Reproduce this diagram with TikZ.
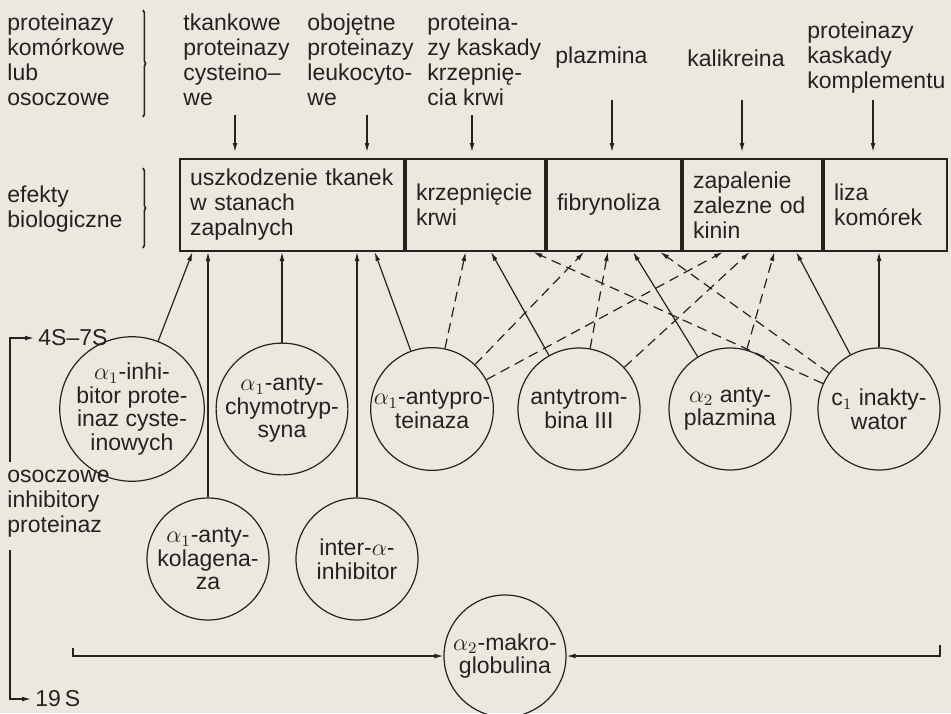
\documentclass[tikz,border=0pt]{standalone}
\usepackage{fontspec}
\setmainfont{Liberation Sans}
\usetikzlibrary{arrows.meta,calc,decorations.pathreplacing}
\definecolor{paper}{RGB}{235,232,224}
\definecolor{ink}{RGB}{38,34,34}
\tikzset{
  txt/.style={inner sep=0pt, align=left, anchor=west, font=\fontsize{11.5}{12.5}\selectfont},
  cell/.style={draw, line width=1pt, rectangle, anchor=north west, minimum height=46pt,
    inner xsep=5pt, align=left, font=\fontsize{11.5}{12.5}\selectfont},
  inh/.style={draw, circle, minimum size=61pt, inner sep=0pt, align=center, line width=0.6pt,
    font=\fontsize{11.5}{11.8}\selectfont},
  arr/.style={-{Latex[length=4.5pt,width=2.4pt]}, line width=0.6pt},
  dsh/.style={arr, dash pattern=on 5pt off 3pt},
  brc/.style={decorate, decoration={brace,amplitude=1.3pt}, line width=0.8pt}
}
\begin{document}
\begin{tikzpicture}[x=0.5pt,y=-0.5pt,color=ink]
  \fill[paper] (0,0) rectangle (951,713);
  \useasboundingbox (0,0) rectangle (951,713);
  %% Sources
  \node[txt] (pk) at (7,60) {proteinazy\\komórkowe\\lub\\osoczowe};
  \draw[brc] (143,10) -- (143,117);
  \node[txt] (tkl) at (183,60) {tkankowe\\proteinazy\\cysteino--\\we};
  \node[txt] (obl) at (307,60) {obojętne\\proteinazy\\leukocyto-\\we};
  \node[txt] (krl) at (427,60) {proteina-\\zy kaskady\\krzepnię-\\cia krwi};
  \node[txt] (pll) at (555,58) {plazmina};
  \node[txt] (kal) at (687,58) {kalikreina};
  \node[txt] (kol) at (807,58) {proteinazy\\kaskady\\komplementu};
  %% Effects
  \node[txt] (eb) at (7,209) {efekty\\biologiczne};
  \draw[brc] (143,168) -- (143,248);
  \node[cell, text width=102pt] (uszk) at (179,158) {uszkodzenie tkanek\\w stanach\\zapalnych};
  \node[cell, text width=59.5pt] (krz) at (uszk.north east) {krzepnięcie\\krwi};
  \node[cell, text width=57pt] (fib) at (krz.north east) {fibrynoliza};
  \node[cell, text width=59.5pt] (zap) at (fib.north east) {zapalenie\\zalezne od\\kinin};
  \node[cell, text width=51.5pt] (liza) at (zap.north east) {liza\\komórek};
  %% Top arrows
  \coordinate (t1) at (235,115);
  \coordinate (t2) at (367,115);
  \coordinate (t3) at (472,115);
  \coordinate (t4) at (612,100);
  \coordinate (t5) at (742,100);
  \coordinate (t6) at (873,100);
  \draw[arr,shorten >=3pt] (t1) -- (t1 |- uszk.north);
  \draw[arr,shorten >=3pt] (t2) -- (t2 |- uszk.north);
  \draw[arr,shorten >=3pt] (t3) -- (t3 |- krz.north);
  \draw[arr,shorten >=3pt] (t4) -- (t4 |- fib.north);
  \draw[arr,shorten >=3pt] (t5) -- (t5 |- zap.north);
  \draw[arr,shorten >=3pt] (t6) -- (t6 |- liza.north);
  %% Inhibitors
  \node[inh] (c1) at (132,409) {$\alpha_1$-inhi-\\bitor prote-\\inaz cyste-\\inowych};
  \node[inh] (c2) at (282,409) {$\alpha_1$-anty-\\chymotryp-\\syna};
  \node[inh] (c3) at (432,409) {$\alpha_1$-antypro-\\teinaza};
  \node[inh] (c4) at (579,409) {antytrom-\\bina III};
  \node[inh] (c5) at (730,409) {$\alpha_2$ anty-\\plazmina};
  \node[inh] (c6) at (879,409) {c$_1$ inakty-\\wator};
  \node[inh] (c7) at (208,559) {$\alpha_1$-anty-\\kolagena-\\za};
  \node[inh] (c8) at (357,559) {inter-$\alpha$-\\inhibitor};
  \node[inh] (mak) at (505,656) {$\alpha_2$-makro-\\globulina};
  %% Inhibitor -> effect
  \draw[arr] (c1) -- ($(uszk.south west)!0.06!(uszk.south east)$);
  \draw[arr] (c7) -- (c7 |- uszk.south);
  \draw[arr] (c2) -- (c2 |- uszk.south);
  \draw[arr] (c8) -- (c8 |- uszk.south);
  \draw[arr] (c3) -- ($(uszk.south west)!0.866!(uszk.south east)$);
  \draw[dsh] (c3) -- ($(krz.south west)!0.43!(krz.south east)$);
  \draw[dsh] (c3) -- ($(fib.south west)!0.28!(fib.south east)$);
  \draw[dsh] (c3) -- ($(zap.south west)!0.29!(zap.south east)$);
  \draw[arr] (c4) -- ($(krz.south west)!0.61!(krz.south east)$);
  \draw[dsh] (c4) -- ($(fib.south west)!0.455!(fib.south east)$);
  \draw[dsh] (c4) -- ($(zap.south west)!0.48!(zap.south east)$);
  \draw[arr] (c5) -- ($(fib.south west)!0.64!(fib.south east)$);
  \draw[dsh] (c5) -- ($(zap.south west)!0.655!(zap.south east)$);
  \draw[dsh] (c6) -- ($(krz.south west)!0.91!(krz.south east)$);
  \draw[dsh] (c6) -- ($(fib.south west)!0.84!(fib.south east)$);
  \draw[arr] (c6) -- ($(zap.south west)!0.81!(zap.south east)$);
  \draw[arr] (c6) -- (c6 |- liza.south);
  %% Makroglobulina
  \coordinate (mk1) at (73,648);
  \coordinate (mk2) at (940,645);
  \draw[arr] (mk1) |- (mak);
  \draw[arr] (mk2) |- (mak);
  %% Sedimentation
  \node[txt] (oip) at (7,504) {osoczowe\\inhibitory\\proteinaz};
  \node[txt, inner sep=2pt] (s4) at (34,338) {4S--7S};
  \node[txt, inner sep=2pt] (s19) at (31,699) {19\,S};
  \coordinate (lt) at (10,462);
  \coordinate (lb) at (10,550);
  \draw[arr] (lt) |- (s4);
  \draw[arr] (lb) |- (s19);
\end{tikzpicture}
\end{document}
